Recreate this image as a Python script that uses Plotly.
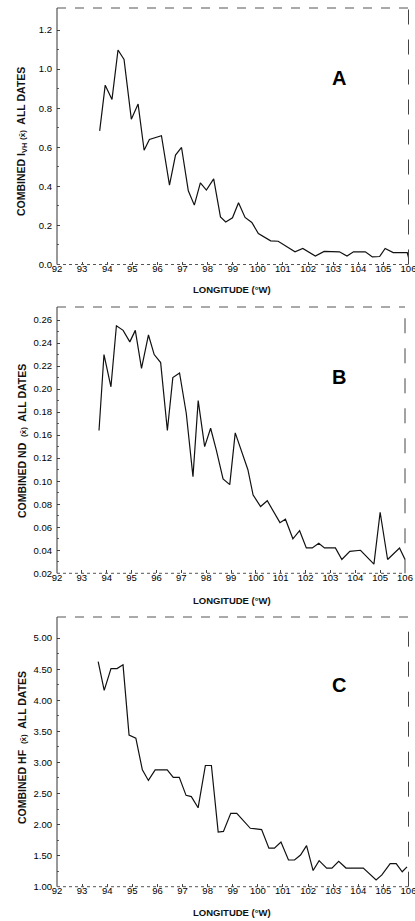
import plotly.graph_objects as go

# ---------------- data ----------------
lon_a = [93.70, 93.92, 94.19, 94.43, 94.67, 94.96, 95.23, 95.47, 95.68, 96.16,
         96.48, 96.72, 96.96, 97.23, 97.47, 97.71, 97.95, 98.24, 98.51, 98.72,
         98.99, 99.23, 99.49, 99.76, 100.02, 100.51, 100.81, 101.48, 101.79, 102.29,
         102.64, 103.25, 103.55, 103.81, 104.28, 104.56, 104.85, 105.07, 105.39, 105.95,
         106.0]
ivh = [0.684, 0.918, 0.845, 1.098, 1.050, 0.744, 0.821, 0.585, 0.640, 0.659,
       0.406, 0.560, 0.599, 0.377, 0.304, 0.418, 0.381, 0.438, 0.244, 0.218,
       0.239, 0.316, 0.241, 0.215, 0.159, 0.121, 0.119, 0.065, 0.082, 0.043,
       0.067, 0.065, 0.043, 0.065, 0.065, 0.039, 0.041, 0.082, 0.061, 0.061,
       0.036]

lon_b = [93.69, 93.89, 94.17, 94.39, 94.66, 94.93, 95.15, 95.40, 95.68, 95.91,
         96.17, 96.44, 96.66, 96.93, 97.20, 97.47, 97.68, 97.94, 98.18, 98.41,
         98.68, 98.95, 99.17, 99.44, 99.68, 99.89, 100.19, 100.46, 100.97, 101.19,
         101.49, 101.76, 102.03, 102.27, 102.53, 102.76, 103.20, 103.46, 103.78, 104.21,
         104.75, 105.00, 105.30, 105.78, 106.0]
nd = [0.164, 0.230, 0.202, 0.255, 0.251, 0.241, 0.251, 0.218, 0.247, 0.230,
      0.223, 0.164, 0.210, 0.214, 0.179, 0.124, 0.190, 0.150, 0.166, 0.147,
      0.122, 0.117, 0.162, 0.144, 0.130, 0.108, 0.098, 0.103, 0.084, 0.087,
      0.070, 0.077, 0.062, 0.062, 0.066, 0.062, 0.062, 0.052, 0.059, 0.060,
      0.048, 0.093, 0.052, 0.062, 0.052]

lon_c = [93.64, 93.88, 94.15, 94.39, 94.63, 94.87, 95.14, 95.40, 95.64, 95.91,
         96.39, 96.63, 96.87, 97.14, 97.35, 97.62, 97.91, 98.15, 98.42, 98.63,
         98.92, 99.16, 99.70, 100.15, 100.44, 100.66, 100.92, 101.22, 101.46, 101.70,
         101.94, 102.20, 102.44, 102.74, 102.95, 103.22, 103.51, 104.20, 104.71, 104.94,
         105.27, 105.51, 105.75, 105.94]
hf = [4.62, 4.16, 4.51, 4.51, 4.57, 3.44, 3.39, 2.88, 2.71, 2.88,
      2.88, 2.76, 2.76, 2.47, 2.45, 2.27, 2.95, 2.95, 1.88, 1.89,
      2.18, 2.18, 1.94, 1.92, 1.62, 1.62, 1.72, 1.43, 1.43, 1.51,
      1.66, 1.26, 1.42, 1.30, 1.30, 1.41, 1.30, 1.30, 1.11, 1.19,
      1.37, 1.37, 1.24, 1.32]

x_ticks = list(range(92, 107))
a_ticks = [0.0, 0.2, 0.4, 0.6, 0.8, 1.0, 1.2]
a_labels = ["0.0", "0.2", "0.4", "0.6", "0.8", "1.0", "1.2"]
b_ticks = [0.04, 0.06, 0.08, 0.10, 0.12, 0.14, 0.16, 0.18, 0.20, 0.22, 0.24, 0.26]
b_labels = ["0.02", "0.04", "0.06", "0.08", "0.10", "0.12", "0.16", "0.18",
            "0.20", "0.22", "0.24", "0.26"]
c_ticks = [1.0, 1.5, 2.0, 2.5, 3.0, 3.5, 4.0, 4.5, 5.0]
c_labels = ["1.00", "1.50", "2.00", "2.50", "3.00", "3.50", "4.00", "4.50", "5.00"]

W, H = 415, 921
FONT = "Liberation Sans, Arial, sans-serif"
INK = "#111111"

def py(p):  # window pixel row -> paper y
    return 1 - p / H

def px(p):  # window pixel column -> paper x
    return p / W

fig = go.Figure()
line = dict(color=INK, width=1.2)
fig.add_trace(go.Scatter(x=lon_a, y=ivh, mode="lines", line=line, xaxis="x", yaxis="y"))
fig.add_trace(go.Scatter(x=lon_b, y=nd, mode="lines", line=line, xaxis="x2", yaxis="y2"))
fig.add_trace(go.Scatter(x=lon_c, y=hf, mode="lines", line=line, xaxis="x3", yaxis="y3"))

tickfont = dict(family=FONT, size=9.5, color="#000")

def xax(anchor, right):
    return dict(domain=[px(57), px(right)], anchor=anchor, range=[92, 106],
                tickmode="array", tickvals=x_ticks, ticktext=[str(t) for t in x_ticks],
                ticks="inside", ticklen=3, tickcolor="#444", tickwidth=1,
                tickfont=tickfont, showgrid=False, zeroline=False, showline=False,
                ticklabelstandoff=-3, ticklabeloverflow="allow",
                automargin=False, fixedrange=True)

def yax(anchor, top, bottom, rng, vals, labels, minor_vals):
    return dict(domain=[py(bottom), py(top)], anchor=anchor, range=rng,
                tickmode="array", tickvals=vals, ticktext=labels,
                ticks="inside", ticklen=3, tickcolor="#444", tickwidth=1,
                minor=dict(tickmode="array", tickvals=minor_vals, ticks="inside",
                           ticklen=2, tickcolor="#666"),
                tickfont=tickfont, showgrid=False, zeroline=False, showline=False,
                ticklabelstandoff=4, ticklabeloverflow="allow",
                automargin=False, fixedrange=True)

fig.update_layout(
    width=W, height=H, margin=dict(l=0, r=0, t=0, b=0, pad=0, autoexpand=False),
    paper_bgcolor="white", plot_bgcolor="white", showlegend=False,
    xaxis=xax("y", 408.5),
    xaxis2=xax("y2", 405),
    xaxis3=xax("y3", 408.5),
    yaxis=yax("x", 8, 264.5, [0, 1.313], a_ticks, a_labels,
              [0.1, 0.3, 0.5, 0.7, 0.9, 1.1]),
    yaxis2=yax("x2", 307, 573.3, [0.04, 0.2713], b_ticks, b_labels,
               [0.05, 0.07, 0.09, 0.11, 0.13, 0.15, 0.17, 0.19, 0.21, 0.23, 0.25]),
    yaxis3=yax("x3", 617, 886.7, [1.0, 5.34], c_ticks, c_labels,
               [1.25, 1.75, 2.25, 2.75, 3.25, 3.75, 4.25, 4.75]),
)

# frames (scanned look: solid left, broken top/right, dotted bottom)
for xa, ya in [("x", "y"), ("x2", "y2"), ("x3", "y3")]:
    xd, yd = xa + " domain", ya + " domain"
    fig.add_shape(type="line", xref=xd, yref=yd, x0=0, x1=0, y0=0, y1=1,
                  line=dict(color="#333", width=1))
    fig.add_shape(type="line", xref=xd, yref=yd, x0=0, x1=1, y0=0, y1=0,
                  line=dict(color="#555", width=1, dash="dot"))
    fig.add_shape(type="line", xref=xd, yref=yd, x0=0, x1=1, y0=1, y1=1,
                  line=dict(color="#555", width=1, dash="dash"))
    fig.add_shape(type="line", xref=xd, yref=yd, x0=1, x1=1, y0=0, y1=1,
                  line=dict(color="#444", width=1, dash="longdash"))

xbar = "x\u0304"
titles = [
    ("COMBINED I<sub>VH</sub> <span style='font-size:8px'>(" + xbar + ")</span>  ALL DATES", 142),
    ("COMBINED ND  <span style='font-size:8px'>(" + xbar + ")</span>  ALL DATES", 441),
    ("COMBINED HF  <span style='font-size:8px'>(" + xbar + ")</span>  ALL DATES", 748),
]
for txt, yc in titles:
    fig.add_annotation(text=txt, x=px(22), y=py(yc), xref="paper", yref="paper",
                       textangle=-90, showarrow=False, xanchor="center", yanchor="middle",
                       font=dict(family=FONT, size=10.5, color=INK, weight="bold"))

for yc in [290, 600, 912]:
    fig.add_annotation(text="LONGITUDE (°W)", x=px(232), y=py(yc), xref="paper", yref="paper",
                       showarrow=False, xanchor="center", yanchor="middle",
                       font=dict(family=FONT, size=9.5, color=INK, weight="bold"))

for letter, yc in [("A", 78), ("B", 377), ("C", 685)]:
    fig.add_annotation(text=letter, x=px(339), y=py(yc), xref="paper", yref="paper",
                       showarrow=False, xanchor="center", yanchor="middle",
                       font=dict(family=FONT, size=20, color="#000", weight="bold"))

# remove the default page margin so the 415x921 figure sits flush in the window
fig.write_html("out.html",
               config={"displayModeBar": False, "staticPlot": True},
               post_script="document.body.style.margin='0';document.body.style.overflow='hidden';")
